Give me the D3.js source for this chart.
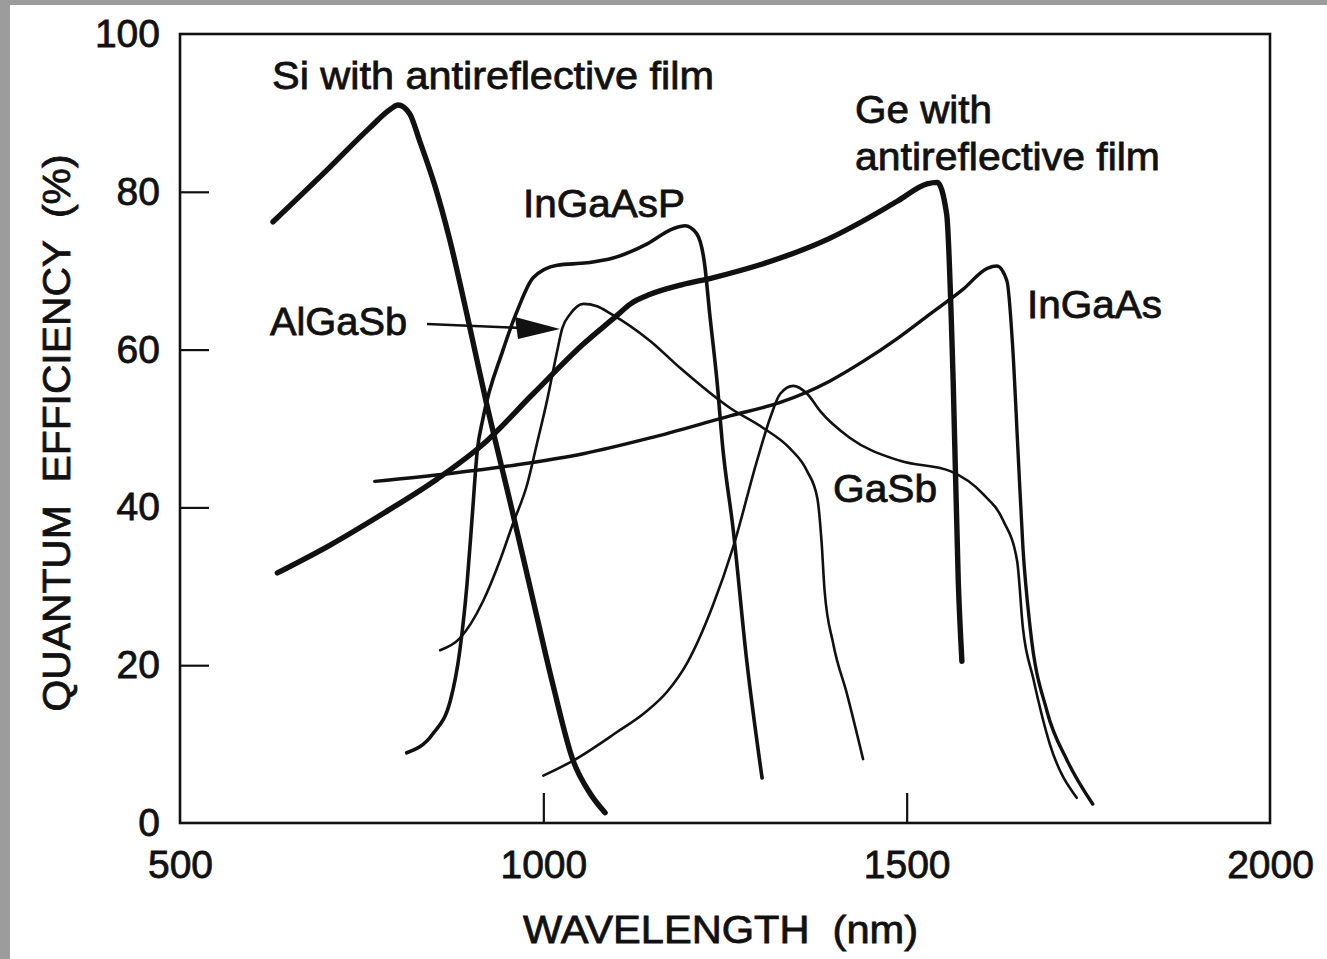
<!DOCTYPE html>
<html>
<head>
<meta charset="utf-8">
<script src="https://cdn.jsdelivr.net/npm/d3@7"></script>
<style>
  body { margin: 0; background: #fff; }
  svg { display: block; }
  text { font-family: "Liberation Sans", Arial, sans-serif; fill: #111; stroke: #111; stroke-width: 0.8px; }
</style>
</head>
<body>
<svg width="1327" height="959"></svg>
<script>
// Data (wavelength in nm, quantum efficiency in %)
var siNm = [628, 706, 761, 790, 800, 816, 830, 850, 871, 896, 921, 954, 983, 1013, 1041, 1064, 1085];
var siQe = [76.2, 83.1, 88.1, 90.5, 91.0, 89.9, 86.4, 81.0, 74.0, 64.0, 53.5, 40.8, 29.4, 17.6, 7.9, 3.8, 1.3];

var geNm = [634, 706, 779, 854, 917, 986, 1055, 1101, 1120, 1147, 1190, 1233, 1326, 1394, 1440, 1487, 1528, 1542, 1555, 1564, 1571, 1576];
var geQe = [31.7, 35.2, 39.2, 43.6, 48.0, 54.4, 60.7, 64.3, 65.8, 67.0, 68.2, 69.1, 71.6, 74.1, 76.3, 78.8, 81.0, 81.2, 77.2, 56.0, 30.7, 20.5];

var ingaaspNm = [812, 848, 872, 885, 895, 902, 909, 917, 944, 964, 986, 1019, 1060, 1096, 1143, 1178, 1195, 1211, 1222, 1229, 1239, 1247, 1261, 1280, 1301];
var ingaaspQe = [8.9, 11.3, 15.5, 21.8, 30.3, 38.7, 47.1, 51.3, 59.8, 64.9, 69.1, 70.7, 71.0, 71.6, 73.4, 75.3, 75.7, 74.7, 70.8, 64.5, 56.0, 47.5, 37.4, 20.5, 5.7];

var algasbNm = [858, 885, 917, 940, 958, 978, 991, 1005, 1019, 1026, 1037, 1055, 1074, 1092, 1147, 1188, 1257, 1302, 1339, 1363, 1377, 1383, 1387, 1399, 1418, 1440];
var algasbQe = [21.9, 23.4, 28.1, 33.2, 37.9, 43.0, 48.0, 53.5, 59.8, 62.7, 64.5, 65.8, 65.5, 64.6, 61.1, 57.7, 52.6, 50.1, 47.5, 44.6, 41.2, 35.5, 29.5, 22.7, 16.3, 8.1];

var ingaasNm = [768, 872, 964, 1055, 1147, 1257, 1326, 1394, 1440, 1487, 1532, 1577, 1611, 1624, 1638, 1646, 1653, 1660, 1670, 1693, 1721, 1756];
var ingaasQe = [43.3, 44.3, 45.4, 46.8, 48.8, 51.6, 53.3, 56.0, 58.5, 61.4, 64.5, 67.6, 70.3, 70.6, 68.7, 60.2, 47.5, 34.9, 24.7, 14.2, 7.9, 2.4];

var gasbNm = [1000, 1041, 1101, 1140, 1170, 1198, 1233, 1261, 1294, 1312, 1326, 1344, 1363, 1381, 1422, 1491, 1560, 1605, 1633, 1652, 1660, 1674, 1697, 1734];
var gasbQe = [6.0, 7.9, 11.5, 14.0, 16.6, 20.3, 27.5, 34.9, 45.9, 51.3, 54.4, 55.4, 54.4, 52.2, 48.8, 45.9, 44.6, 41.7, 38.3, 33.2, 24.7, 18.4, 10.0, 3.2];

var xTicks = [500, 1000, 1500, 2000];
var yTicks = [0, 20, 40, 60, 80, 100];

// The svg
var svg = d3.select("svg"),
	width = +svg.attr("width"),
	height = +svg.attr("height");

// scanned page: grey strip top and left
svg.append("rect").attr("width", width).attr("height", height).attr("fill", "#9c9c9c");
svg.append("rect").attr("x", 10).attr("y", 5).attr("width", width - 10).attr("height", height - 5).attr("fill", "#fff");

var x = d3.scaleLinear().domain([500, 2000]).range([180, 1270]);
var y = d3.scaleLinear().domain([0, 100]).range([823, 34]);

// frame
svg.append("rect")
	.attr("x", x(500)).attr("y", y(100))
	.attr("width", x(2000) - x(500)).attr("height", y(0) - y(100))
	.attr("fill", "none").attr("stroke", "#111").attr("stroke-width", 2.6);

// axes, ticks pointing inward
var yAxis = svg.append("g")
	.attr("transform", "translate(" + x(500) + ",0)")
	.call(d3.axisLeft(y).tickValues(yTicks).tickSize(-29).tickPadding(20).tickFormat(d3.format("d")));
var xAxis = svg.append("g")
	.attr("transform", "translate(0," + y(0) + ")")
	.call(d3.axisBottom(x).tickValues(xTicks).tickSize(-30).tickPadding(27).tickFormat(d3.format("d")));

[yAxis, xAxis].forEach(function(g) {
	g.attr("font-size", 39).attr("font-family", null);
	g.select(".domain").remove();
	g.selectAll(".tick line").attr("stroke", "#111").attr("stroke-width", 2.2);
	g.selectAll(".tick text").attr("fill", "#111");
});
yAxis.selectAll(".tick line").filter(function(d) { return d === 0 || d === 100; }).remove();
xAxis.selectAll(".tick line").filter(function(d) { return d === 500 || d === 2000; }).remove();

// axis titles
svg.append("text")
	.attr("x", 523).attr("y", 943)
	.attr("font-size", 39)
	.attr("textLength", 395).attr("lengthAdjust", "spacingAndGlyphs")
	.attr("xml:space", "preserve")
	.text("WAVELENGTH  (nm)");

svg.append("text")
	.attr("transform", "translate(70,433) rotate(-90)")
	.attr("text-anchor", "middle")
	.attr("font-size", 39)
	.attr("textLength", 557).attr("lengthAdjust", "spacingAndGlyphs")
	.attr("xml:space", "preserve")
	.text("QUANTUM  EFFICIENCY  (%)");

// curves
var line = d3.line()
	.x(function(d) { return x(d[0]); })
	.y(function(d) { return y(d[1]); })
	.curve(d3.curveMonotoneX);

var series = [
	{ name: "GaSb", nm: gasbNm, qe: gasbQe, w: 2.6 },
	{ name: "AlGaSb", nm: algasbNm, qe: algasbQe, w: 2.6 },
	{ name: "InGaAs", nm: ingaasNm, qe: ingaasQe, w: 3.4 },
	{ name: "InGaAsP", nm: ingaaspNm, qe: ingaaspQe, w: 3.6 },
	{ name: "Ge", nm: geNm, qe: geQe, w: 5.4 },
	{ name: "Si", nm: siNm, qe: siQe, w: 5.4 }
];

svg.append("g")
	.attr("class", "curves")
	.selectAll("path")
	.data(series)
	.enter()
	.append("path")
	.attr("d", function(d) { return line(d3.zip(d.nm, d.qe)); })
	.attr("fill", "none")
	.attr("stroke", "#111")
	.attr("stroke-width", function(d) { return d.w; })
	.attr("stroke-linecap", "round")
	.attr("stroke-linejoin", "round");

// AlGaSb arrow
svg.append("line")
	.attr("x1", 427).attr("y1", 324).attr("x2", 522).attr("y2", 328)
	.attr("stroke", "#111").attr("stroke-width", 2.6);
svg.append("path")
	.attr("d", "M515,317 L518,339 L560,329 Z")
	.attr("fill", "#111");

// curve labels
var labels = [
	{ t: "Si with antireflective film", x: 272, y: 89, w: 442 },
	{ t: "InGaAsP", x: 523, y: 217, w: 162 },
	{ t: "Ge with", x: 855, y: 123, w: 137 },
	{ t: "antireflective film", x: 855, y: 170, w: 305 },
	{ t: "InGaAs", x: 1027, y: 318, w: 135 },
	{ t: "AlGaSb", x: 270, y: 335, w: 137 },
	{ t: "GaSb", x: 833, y: 502, w: 104 }
];

svg.append("g")
	.selectAll("text")
	.data(labels)
	.enter()
	.append("text")
	.attr("x", function(d) { return d.x; })
	.attr("y", function(d) { return d.y; })
	.attr("font-size", 39)
	.attr("textLength", function(d) { return d.w; })
	.attr("lengthAdjust", "spacingAndGlyphs")
	.text(function(d) { return d.t; });
</script>
</body>
</html>
